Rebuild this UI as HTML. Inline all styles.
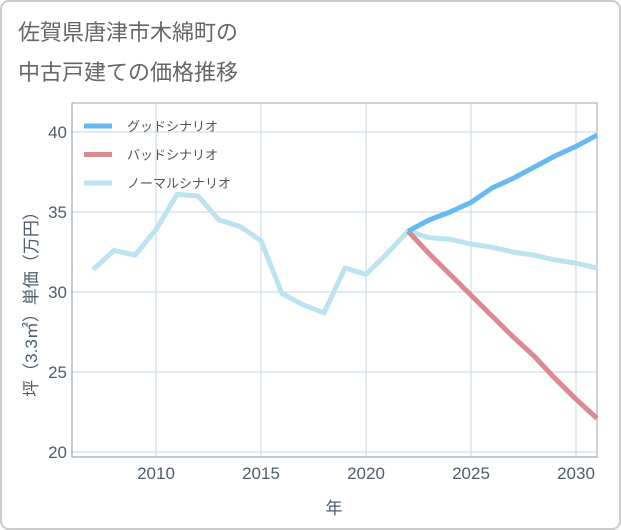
<!DOCTYPE html>
<html><head><meta charset="utf-8">
<style>
body{margin:0;background:#fff;}
#wrap{position:relative;width:621px;height:530px;overflow:hidden;font-family:"Liberation Sans","Noto Sans CJK JP",sans-serif;}
</style></head>
<body>
<div id="wrap">
<svg id="chart" width="621" height="530" xmlns="http://www.w3.org/2000/svg">
<rect x="1" y="1" width="619" height="528" rx="8" fill="#fff" stroke="#ccc" stroke-width="2"/>
<text x="18" y="40" font-size="22" fill="#666" font-family="Liberation Sans, Noto Sans CJK JP, sans-serif">佐賀県唐津市木綿町の</text>
<text x="18" y="80" font-size="22" fill="#666" font-family="Liberation Sans, Noto Sans CJK JP, sans-serif">中古戸建ての価格推移</text>
<g id="grid"></g>
<g id="series"></g>
<g id="legend"></g>
</svg>
</div>
<script>
const years=[2007,2008,2009,2010,2011,2012,2013,2014,2015,2016,2017,2018,2019,2020,2021,2022,2023,2024,2025,2026,2027,2028,2029,2030,2031];
const normalValues=[31.4,32.6,32.3,33.9,36.1,36.0,34.5,34.1,33.2,29.9,29.2,28.7,31.5,31.1,32.4,33.8,33.4,33.3,33.0,32.8,32.5,32.3,32.0,31.8,31.5];
const goodYears=[2022,2023,2024,2025,2026,2027,2028,2029,2030,2031];
const goodValues=[33.8,34.5,35.0,35.6,36.5,37.1,37.8,38.5,39.1,39.8];
const badValues=[33.8,32.4,31.1,29.8,28.5,27.2,26.0,24.6,23.3,22.1];
const xTicks=[2010,2015,2020,2025,2030];
const yTicks=[20,25,30,35,40];
const legendLabels=["グッドシナリオ","バッドシナリオ","ノーマルシナリオ"];

const NS="http://www.w3.org/2000/svg";
const L=72,R=597,T=103,B=457;
const xs=y=>156+(y-2010)*21;
const ys=v=>452-(v-20)*16;
function mk(tag,attrs,parent){const e=document.createElementNS(NS,tag);for(const k in attrs)e.setAttribute(k,attrs[k]);parent.appendChild(e);return e;}
const grid=document.getElementById('grid'),series=document.getElementById('series'),legend=document.getElementById('legend');
const bg=mk('rect',{x:L,y:T,width:R-L,height:B-T,fill:'#fff',stroke:'#9aa8b6','stroke-width':1},grid);


xTicks.forEach(t=>{
  const l=mk('line',{x1:xs(t),x2:xs(t),y1:T,y2:B,stroke:'#c9d6e3','stroke-width':1},grid);
  
  
  const tx=mk('text',{x:xs(t),y:479,'text-anchor':'middle','font-size':17,fill:'#4d5d6e'},grid);
  tx.textContent=t;
  
  
});
yTicks.forEach(t=>{
  const l=mk('line',{x1:L,x2:R,y1:ys(t),y2:ys(t),stroke:'#c9d6e3','stroke-width':1},grid);
  
  
  const tx=mk('text',{x:67,y:ys(t)+6,'text-anchor':'end','font-size':17,fill:'#4d5d6e'},grid);
  tx.textContent=t;
  
  
});
const ax=mk('line',{x1:L,x2:R,y1:B,y2:B,stroke:'#8a96a3','stroke-width':1},grid);


const ayl=mk('line',{x1:L,x2:L,y1:T,y2:B,stroke:'#8a96a3','stroke-width':1},grid);


const xt=mk('text',{x:334,y:514,'text-anchor':'middle','font-size':17,fill:'#4d5d6e'},grid);
xt.textContent='年';


const yt=mk('text',{x:0,y:0,'text-anchor':'middle','font-size':17,fill:'#4d5d6e',transform:'translate(37,300) rotate(-90)'},grid);
yt.textContent='坪（3.3㎡）単価（万円）';



function line(xv,yv,color,name){
  const d=xv.map((x,i)=>(i?'L':'M')+xs(x)+','+ys(yv[i])).join(' ');
  const p=mk('path',{d:d,fill:'none',stroke:color,'stroke-width':5,'stroke-linejoin':'round'},series);
  
  
}
line(years,normalValues,'#bde2f0','normal-scenario-line');
line(goodYears,badValues,'#dc8a90','bad-scenario-line');
line(goodYears,goodValues,'#67b9f1','good-scenario-line');

const colors=['#67b9f1','#dc8a90','#bde2f0'];
legendLabels.forEach((lab,i)=>{
  const y=126+i*28.5;
  const l=mk('line',{x1:84,x2:112,y1:y,y2:y,stroke:colors[i],'stroke-width':5},legend);
  
  
  const t=mk('text',{x:127,y:y+5,'font-size':13,fill:'#555'},legend);
  t.textContent=lab;
  
  
});
</script>
</body></html>
